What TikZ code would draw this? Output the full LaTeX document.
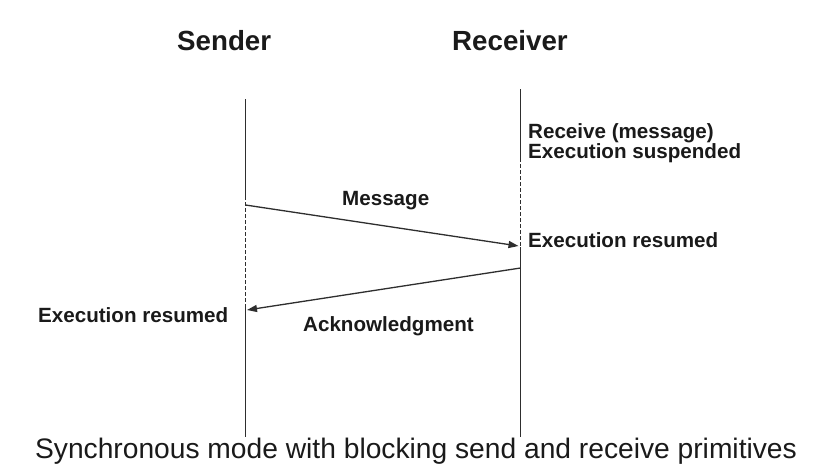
\documentclass[tikz,border=0pt]{standalone}
\usepackage{fontspec}
\setmainfont{Liberation Sans}
\usetikzlibrary{arrows.meta}
\definecolor{ink}{HTML}{1A1A1A}
\definecolor{wire}{HTML}{2E2E2E}
\tikzset{
  lifeline/.style={draw=wire, line width=1.4pt},
  waiting/.style={draw=wire, line width=1.2pt, dash pattern=on 3.5pt off 2.5pt},
  msg/.style={draw=wire, line width=1.3pt, -{Triangle[length=10pt,width=7pt]}},
  head/.style={font=\fontsize{27.7}{30}\selectfont\bfseries, text=ink, inner sep=0pt, anchor=base west},
  note/.style={font=\fontsize{20.6}{21}\selectfont\bfseries, text=ink, inner sep=0pt, anchor=base west},
  caption/.style={font=\fontsize{28.2}{30}\selectfont, text=ink, inner sep=0pt, anchor=base}
}
\begin{document}
\begin{tikzpicture}[x=1pt, y=-1pt]
\useasboundingbox[fill=white] (0,0) rectangle (816,466);

% column headings
\node[head] (sender) at (177,50) {Sender};
\node[head] (receiver) at (452,50) {Receiver};

% sender lifeline points
\coordinate (sTop) at (245.5,99);
\coordinate (sWait) at (245.5,196);
\coordinate (sSend) at (245.5,205);
\coordinate (sAck) at (245.5,310);
\coordinate (sResume) at (245.5,306);
\coordinate (sEnd) at (245.5,437);

% receiver lifeline points
\coordinate (rTop) at (520.5,89);
\coordinate (rWait) at (520.5,158);
\coordinate (rMsg) at (520.5,246);
\coordinate (rResume) at (520.5,247);
\coordinate (rAck) at (520.5,268);
\coordinate (rEnd) at (520.5,437);

% lifelines: solid while running, dashed while blocked
\draw[lifeline] (sTop) -- (sWait);
\draw[waiting] (sWait) -- (sResume);
\draw[lifeline] (sResume) -- (sEnd);
\draw[lifeline] (rTop) -- (rWait);
\draw[waiting] (rWait) -- (rResume);
\draw[lifeline] (rResume) -- (rEnd);

% messages
\draw[msg] (sSend) -- ([xshift=-2pt]rMsg);
\draw[msg] (rAck) -- ([xshift=1.5pt]sAck);

% labels
\node[note] (recv) at (528,138) {Receive (message)};
\node[note] (susp) at (528,158) {Execution suspended};
\node[note] (mlabel) at (342,205) {Message};
\node[note] (rres) at (528,247) {Execution resumed};
\node[note] (sres) at (38,322) {Execution resumed};
\node[note] (alabel) at (303,331) {Acknowledgment};

\node[caption] (cap) at (416,458) {Synchronous mode with blocking send and receive primitives};
\end{tikzpicture}
\end{document}
